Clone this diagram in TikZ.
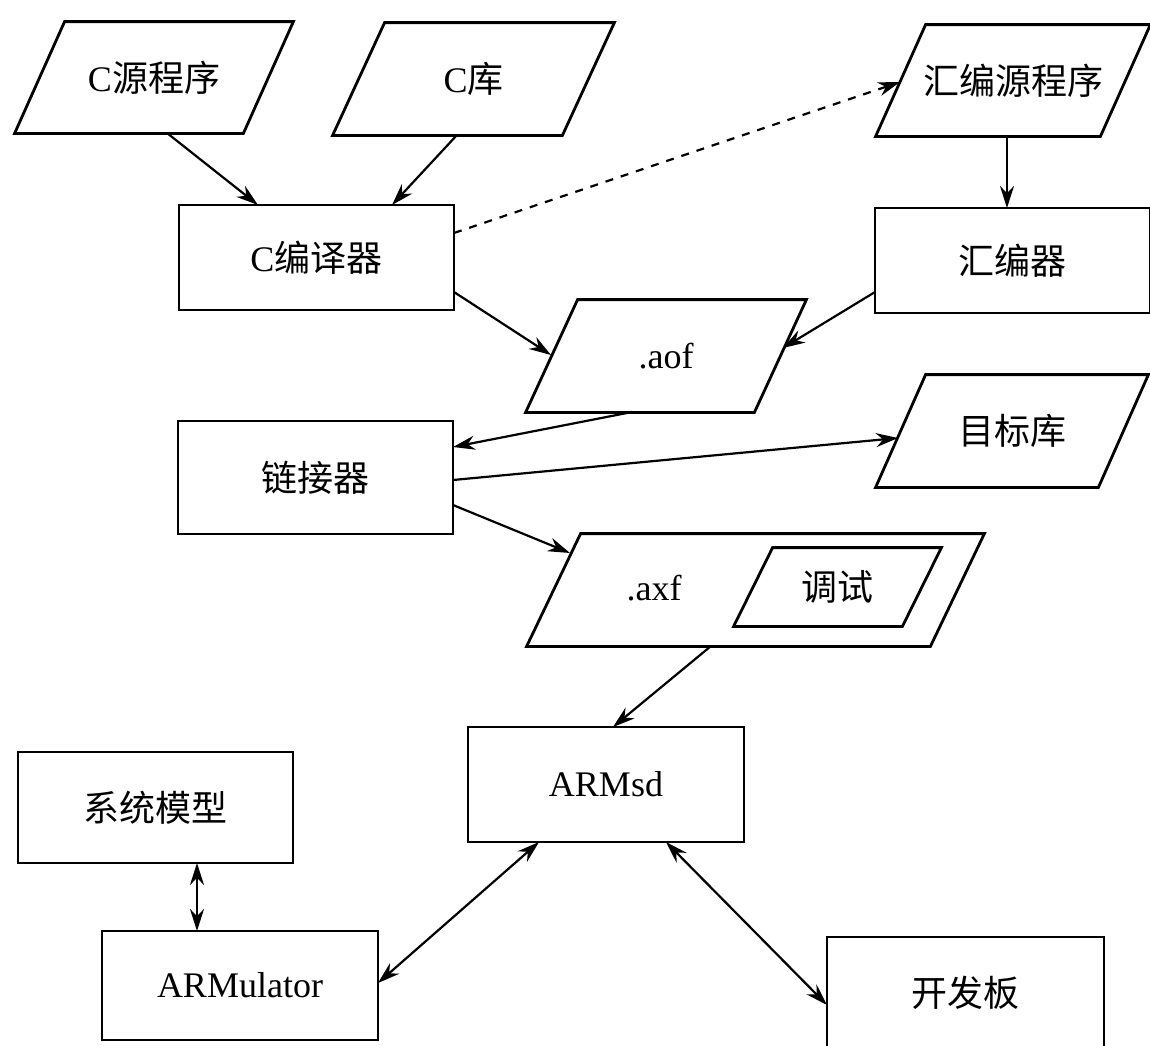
\documentclass[tikz,border=0pt]{standalone}
\usepackage{fontspec}
\setmainfont{Liberation Serif}
\newfontfamily\cjk{Noto Sans CJK SC}
\usetikzlibrary{arrows.meta,calc}
\newcommand\parabox[7]{%
  \node[txt,minimum width=#4,minimum height=#5,inner sep=0pt] (#1) at (#2,#3) {#7};
  \draw[paraline] ($(#1.north west)+(#6,0)$) -- (#1.north east) -- ($(#1.south east)-(#6,0)$) -- (#1.south west) -- cycle;}
\begin{document}
\begin{tikzpicture}[x=0.5pt,y=-0.5pt,
  txt/.style={font=\fontsize{18}{20}\selectfont},
  box/.style={draw,line width=1.4pt,rectangle,inner sep=0pt,txt},
  paraline/.style={line width=1.4pt,line join=miter},
  arr/.style={line width=1.1pt,-{Stealth[length=11pt,width=7pt]}},
  biarr/.style={line width=1.1pt,{Stealth[length=11pt,width=7pt]}-{Stealth[length=11pt,width=7pt]}},
]
\useasboundingbox (0,0) rectangle (1150,1045);
% parallelograms
\parabox{csrc}{154}{77.5}{139pt}{55.5pt}{50}{C{\cjk 源程序}}
\parabox{clib}{473.5}{79}{140.5pt}{56pt}{52}{C{\cjk 库}}
\parabox{asmsrc}{1013}{80.5}{137pt}{55.5pt}{50}{\cjk 汇编源程序}
\parabox{aof}{666}{356}{140pt}{56pt}{52}{.aof}
\parabox{objlib}{1012}{431}{136pt}{56pt}{50}{\cjk 目标库}
\parabox{axf}{755.5}{590}{228.5pt}{56pt}{54}{}
\node[txt] (axft) at (654,588) {.axf};
\parabox{dbg}{837.5}{587}{103.5pt}{39pt}{39}{\cjk 调试}
% rectangles
\node[box,minimum width=137.5pt,minimum height=52.5pt] (ccomp) at (316.5,257.5) {C{\cjk 编译器}};
\node[box,minimum width=137.5pt,minimum height=52.5pt] (asm) at (1012.5,260.5) {\cjk 汇编器};
\node[box,minimum width=137.5pt,minimum height=56.5pt] (linker) at (315.5,477.5) {\cjk 链接器};
\node[box,minimum width=138pt,minimum height=57.5pt] (armsd) at (606,784.5) {ARMsd};
\node[box,minimum width=137.5pt,minimum height=55.5pt] (sysmodel) at (155.5,807.5) {\cjk 系统模型};
\node[box,minimum width=138pt,minimum height=54.5pt] (armulator) at (240,985.5) {ARMulator};
\node[box,minimum width=138.5pt,minimum height=56pt] (board) at (965.5,993) {\cjk 开发板};
% connectors
\draw[arr] ($(csrc)+(13,55.5)$) -- ($(ccomp)+(-58.5,-52.5)$);
\draw[arr] ($(clib)+(-16.5,56)$) -- ($(ccomp)+(75.5,-52.5)$);
\draw[arr,dash pattern=on 4pt off 4pt] ($(ccomp)+(137.5,-24.5)$) -- ($(asmsrc)+(-113,1.5)$);
\draw[arr] ($(asmsrc)+(-6,55.5)$) -- ($(asm)+(-5.5,-52.5)$);
\draw[arr] ($(ccomp)+(137.5,34.5)$) -- ($(aof)+(-115,-1)$);
\draw[arr] ($(asm)+(-137.5,31.5)$) -- ($(aof)+(117,-8)$);
\draw[arr] ($(aof)+(-34,56)$) -- ($(linker)+(137.5,-30.5)$);
\draw[arr] ($(linker)+(137.5,2.5)$) -- ($(objlib)+(-114,7)$);
\draw[arr] ($(linker)+(137.5,27.5)$) -- ($(axf)+(-185.5,-37)$);
\draw[arr] ($(axf)+(-44.5,56)$) -- ($(armsd)+(7,-57.5)$);
\draw[biarr] ($(sysmodel)+(41.5,55.5)$) -- ($(armulator)+(-43,-54.5)$);
\draw[biarr] ($(armsd)+(-67,57.5)$) -- ($(armulator)+(138,-2.5)$);
\draw[biarr] ($(armsd)+(60,57.5)$) -- ($(board)+(-138.5,12)$);
\end{tikzpicture}
\end{document}
